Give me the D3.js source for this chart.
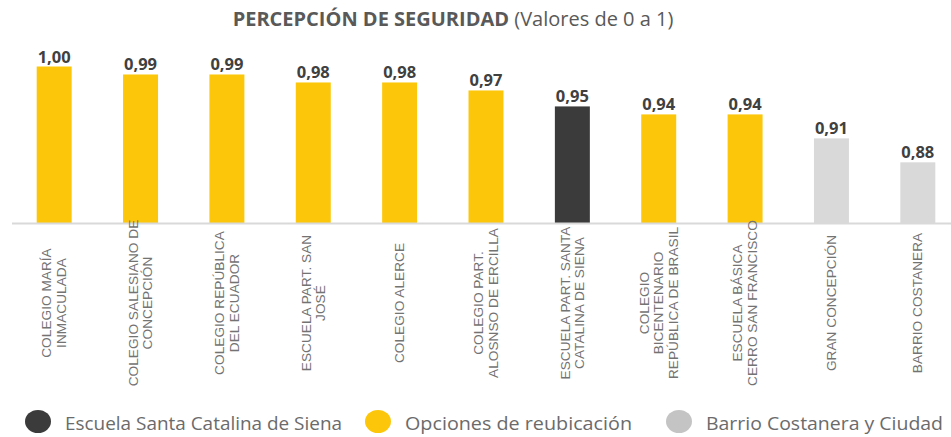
<!DOCTYPE html>
<html>
<head>
    <meta charset="utf-8">
    <script type="text/javascript" src="https://cdn.jsdelivr.net/npm/d3@7"></script>
    <style>
        body { margin: 0; background: #fff; }
    </style>
</head>

<body>
    <div id="viz"></div>
    <script type="text/javascript">

    // data
    var categories = [
        "COLEGIO MARÍA INMACULADA",
        "COLEGIO SALESIANO DE CONCEPCIÓN",
        "COLEGIO REPÚBLICA DEL ECUADOR",
        "ESCUELA PART. SAN JOSÉ",
        "COLEGIO ALERCE",
        "COLEGIO PART. ALOSNSO DE ERCILLA",
        "ESCUELA PART. SANTA CATALINA DE SIENA",
        "COLEGIO BICENTENARIO REPÚBLICA DE BRASIL",
        "ESCUELA BÁSICA CERRO SAN FRANCISCO",
        "GRAN CONCEPCIÓN",
        "BARRIO COSTANERA"
    ];
    // how the category names wrap under the axis
    var labelLines = [
        ["COLEGIO MARÍA", "INMACULADA"],
        ["COLEGIO SALESIANO DE", "CONCEPCIÓN"],
        ["COLEGIO REPÚBLICA", "DEL ECUADOR"],
        ["ESCUELA PART. SAN", "JOSÉ"],
        ["COLEGIO ALERCE"],
        ["COLEGIO PART.", "ALOSNSO DE ERCILLA"],
        ["ESCUELA PART. SANTA", "CATALINA DE SIENA"],
        ["COLEGIO", "BICENTENARIO", "REPÚBLICA DE BRASIL"],
        ["ESCUELA BÁSICA", "CERRO SAN FRANCISCO"],
        ["GRAN CONCEPCIÓN"],
        ["BARRIO COSTANERA"]
    ];
    var values = [1.00, 0.99, 0.99, 0.98, 0.98, 0.97, 0.95, 0.94, 0.94, 0.91, 0.88];
    var groups = [1, 1, 1, 1, 1, 1, 0, 1, 1, 2, 2];

    var legendLabels = ["Escuela Santa Catalina de Siena", "Opciones de reubicación", "Barrio Costanera y Ciudad"];
    var colors = ["#3b3b3b", "#fcc70b", "#d9d9d9"];

    var width = 951, height = 437;
    var baseY = 223;

    var svg = d3.select("#viz")
        .append("svg")
        .attr("width", width)
        .attr("height", height)
        .style("display", "block");

    // title
    var title = svg.append("text")
        .attr("x", 453)
        .attr("y", 26)
        .attr("text-anchor", "middle")
        .style("font-family", "'Open Sans', sans-serif")
        .style("font-size", "20px")
        .style("fill", "#595959");
    title.append("tspan").style("font-weight", "bold").text("PERCEPCIÓN DE SEGURIDAD");
    title.append("tspan").text(" (Valores de 0 a 1)");

    var x = d3.scaleBand()
        .domain(categories)
        .range([11, 961])
        .paddingInner(0.595)
        .paddingOuter(0.2975);

    var y = d3.scaleLinear()
        .domain([0.804, 1])
        .range([baseY, 66.5]);

    var data = categories.map(function(c, i) {
        return {name: c, value: values[i], group: groups[i], lines: labelLines[i]};
    });

    // bars
    svg.selectAll("rect.bar")
        .data(data)
        .enter().append("rect")
        .attr("class", "bar")
        .attr("x", function(d) { return x(d.name); })
        .attr("y", function(d) { return y(d.value); })
        .attr("width", x.bandwidth())
        .attr("height", function(d) { return baseY - y(d.value); })
        .style("fill", function(d) { return colors[d.group]; });

    // value labels
    svg.selectAll("text.val")
        .data(data)
        .enter().append("text")
        .attr("class", "val")
        .attr("x", function(d) { return x(d.name) + x.bandwidth() / 2; })
        .attr("y", function(d) { return y(d.value) - 4; })
        .attr("text-anchor", "middle")
        .style("font-family", "'Open Sans', sans-serif")
        .style("font-weight", "bold")
        .style("font-size", "16.5px")
        .style("fill", "#404040")
        .text(function(d) { return d3.format(".2f")(d.value).replace(".", ","); });

    // x axis (line only, labels drawn rotated below)
    var xAxis = svg.append("g")
        .attr("transform", "translate(0," + baseY + ")")
        .call(d3.axisBottom(x).tickSize(0).tickFormat(""));
    xAxis.select(".domain")
        .attr("d", "M12,0.5H951")
        .style("stroke", "#d9d9d9")
        .style("stroke-width", 2);

    var lineH = 14.5;
    var labels = svg.selectAll("text.cat")
        .data(data)
        .enter().append("text")
        .attr("class", "cat")
        .attr("transform", function(d) {
            return "translate(" + (x(d.name) + x.bandwidth() / 2) + ",303) rotate(-90)";
        })
        .attr("text-anchor", "middle")
        .style("font-family", "'Liberation Sans', Arial, sans-serif")
        .style("font-size", "13.7px")
        .style("fill", "#737373");

    labels.selectAll("tspan")
        .data(function(d) { return d.lines.map(function(l, i) { return {t: l, i: i, n: d.lines.length}; }); })
        .enter().append("tspan")
        .attr("x", 0)
        .attr("y", function(d) { return (d.i - (d.n - 1) / 2) * lineH + 4.5; })
        .text(function(d) { return d.t; });

    // legend
    var legendX = [38, 378, 679];
    var legendW = [277, 227, 237];
    var legend = svg.selectAll("g.leg")
        .data(legendLabels)
        .enter().append("g")
        .attr("class", "leg")
        .attr("transform", function(d, i) { return "translate(" + legendX[i] + ",421.5)"; });

    legend.append("ellipse")
        .attr("rx", 13)
        .attr("ry", 11.5)
        .style("fill", function(d, i) { return i == 2 ? "#c4c4c4" : colors[i]; });

    legend.append("text")
        .attr("x", 27)
        .attr("y", 8.5)
        .attr("textLength", function(d, i) { return legendW[i]; })
        .attr("lengthAdjust", "spacingAndGlyphs")
        .style("font-family", "'Open Sans', sans-serif")
        .style("font-size", "18px")
        .style("fill", "#6b6b6b")
        .text(function(d) { return d; });

    </script>
</body>
</html>
